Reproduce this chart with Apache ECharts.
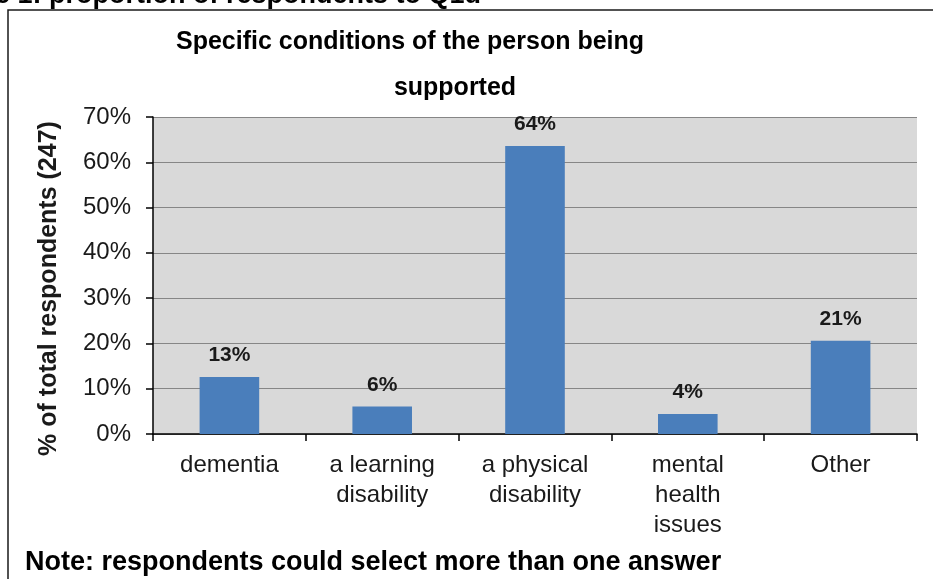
<!DOCTYPE html>
<html>
<head>
<meta charset="utf-8">
<script src="https://cdn.jsdelivr.net/npm/echarts@6/dist/echarts.min.js"></script>
<style>
  html, body { margin: 0; padding: 0; background: #ffffff; }
  #chart { width: 933px; height: 579px; }
</style>
</head>
<body>
<div id="chart"></div>
<script>
// Conditions reported for the person being supported (share of 247 respondents)
const categories = ['dementia', 'a learning\ndisability', 'a physical\ndisability', 'mental\nhealth\nissues', 'Other'];
const percentValues = [12.6, 6.1, 63.6, 4.4, 20.6];
const yTicks = { min: 0, max: 70, step: 10 };

const FONT = '"Liberation Sans", Arial, sans-serif';

const chart = echarts.init(document.getElementById('chart'), null, { renderer: 'canvas' });

chart.setOption({
  animation: false,
  backgroundColor: '#ffffff',
  textStyle: { fontFamily: FONT },
  graphic: [
    // figure caption above the chart frame (partly off the page)
    {
      type: 'text', right: 452, top: -18, z: 10,
      style: { text: 'Figure 1: proportion of respondents to Q1d', font: 'bold 27px ' + FONT, fill: '#000' }
    },
    // chart frame
    {
      type: 'rect', z: 0, silent: true,
      shape: { x: 8, y: 10, width: 960, height: 620 },
      style: { fill: 'none', stroke: '#1a1a1a', lineWidth: 1.5 }
    },
    // title, two lines
    {
      type: 'text', z: 10,
      x: 410, y: 55,
      style: { text: 'Specific conditions of the person being', font: 'bold 25px ' + FONT, fill: '#000', align: 'center', verticalAlign: 'bottom' }
    },
    {
      type: 'text', z: 10,
      x: 455, y: 101,
      style: { text: 'supported', font: 'bold 25px ' + FONT, fill: '#000', align: 'center', verticalAlign: 'bottom' }
    },
    // footnote
    {
      type: 'text', z: 10,
      x: 25, y: 563,
      style: { text: 'Note: respondents could select more than one answer', font: 'bold 27px ' + FONT, fill: '#000', align: 'left', verticalAlign: 'middle' }
    }
  ],
  grid: {
    left: 153, right: 16, top: 117, bottom: 145,
    show: true, backgroundColor: '#d9d9d9', borderWidth: 0
  },
  xAxis: {
    type: 'category',
    data: categories,
    axisLine: { show: true, lineStyle: { color: '#000', width: 1.5 } },
    axisTick: { show: true, alignWithLabel: false, length: 7, lineStyle: { color: '#000', width: 1.5 } },
    axisLabel: {
      interval: 0, margin: 16, color: '#1a1a1a',
      fontSize: 24, lineHeight: 30, fontFamily: FONT, align: 'center'
    }
  },
  yAxis: {
    type: 'value',
    min: yTicks.min, max: yTicks.max, interval: yTicks.step,
    name: '% of total respondents (247)',
    nameLocation: 'middle',
    nameRotate: 90,
    nameGap: 91,
    nameTextStyle: { fontSize: 25, fontWeight: 'bold', color: '#1a1a1a', fontFamily: FONT, padding: [0, 26, 0, 0] },
    axisLine: { show: true, lineStyle: { color: '#000', width: 1.5 } },
    axisTick: { show: true, length: 7, lineStyle: { color: '#000', width: 1.5 } },
    axisLabel: { formatter: '{value}%', margin: 22, fontSize: 24, color: '#1a1a1a', fontFamily: FONT },
    splitLine: { show: true, lineStyle: { color: '#868686', width: 1.2 } }
  },
  series: [{
    type: 'bar',
    data: percentValues,
    barWidth: '39%',
    itemStyle: { color: '#4a7ebb' },
    label: {
      show: true, position: 'top', distance: 11,
      formatter: p => Math.round(p.value) + '%',
      fontSize: 21, fontWeight: 'bold', color: '#1a1a1a', fontFamily: FONT
    }
  }]
});
</script>
</body>
</html>
